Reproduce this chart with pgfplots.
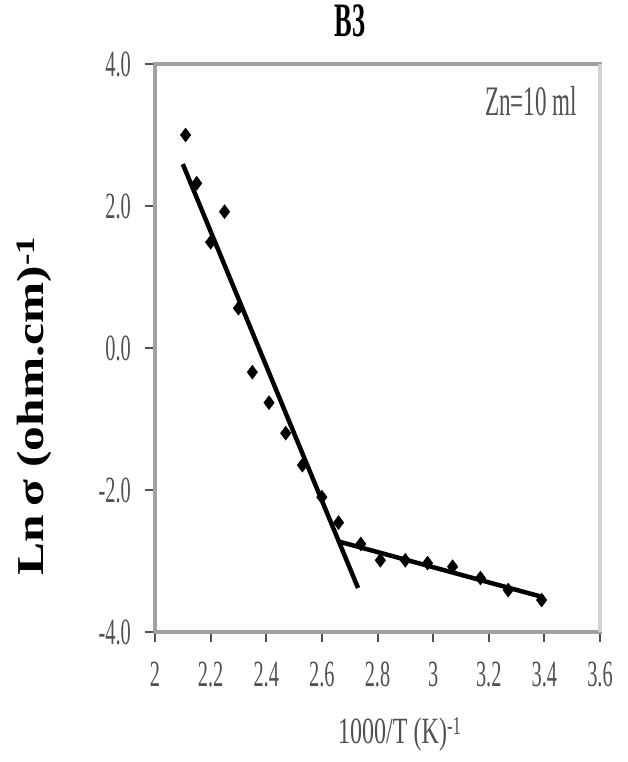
\documentclass[border=0pt]{standalone}
\usepackage{fontspec}
\setmainfont{Liberation Serif}
\usepackage{graphicx}
\usepackage{pgfplots}
\pgfplotsset{compat=1.18}
\definecolor{axisGray}{RGB}{160,160,160}
\definecolor{tickGray}{RGB}{80,80,80}

\pgfplotstableread{
x     y
2.11  3.00
2.15  2.32
2.20  1.49
2.25  1.92
2.30  0.56
2.35 -0.34
2.41 -0.77
2.47 -1.20
2.53 -1.65
2.60 -2.10
2.66 -2.46
2.74 -2.76
2.81 -2.99
2.90 -2.99
2.98 -3.03
3.07 -3.08
3.17 -3.24
3.27 -3.41
3.39 -3.55
}\lnsigma

\newcommand{\tickfont}{\fontsize{37}{40}\selectfont}
\newcommand{\sx}[1]{\scalebox{0.55}[1]{#1}}

\begin{document}
\begin{tikzpicture}
\path[use as bounding box] (0,0) rectangle (628pt,762pt);
\begin{axis}[
    at={(155pt,130pt)}, anchor=south west,
    scale only axis,
    width=445pt, height=568pt,
    xmin=2, xmax=3.6,
    ymin=-4, ymax=4,
    clip=false,
    axis line style={axisGray, line width=3.5pt},
    xtick={2,2.2,2.4,2.6,2.8,3,3.2,3.4,3.6},
    xticklabels={\sx{2},\sx{2.2},\sx{2.4},\sx{2.6},\sx{2.8},\sx{3},\sx{3.2},\sx{3.4},\sx{3.6}},
    ytick={-4,-2,0,2,4},
    yticklabels={\sx{-4.0},\sx{-2.0},\sx{0.0},\sx{2.0},\sx{4.0}},
    tick align=outside,
    xtick pos=bottom, ytick pos=left,
    major tick length=10pt,
    tick style={tickGray, line width=2pt},
    minor tick num=0,
    xticklabel style={font=\tickfont, text=tickGray, anchor=north, inner sep=0pt, yshift=-20pt},
    yticklabel style={font=\tickfont, text=tickGray, anchor=east, inner sep=0pt, xshift=-14pt},
    xlabel={\scalebox{0.65}[1]{1000/T (K)\textsuperscript{-1}}},
    xlabel style={font=\tickfont, text=tickGray, at={(axis description cs:0.55,-0.181)}, anchor=center},
    ylabel={\scalebox{1.3}[1]{Ln\,σ (ohm.cm)\textsuperscript{-1}}},
    ylabel style={font=\fontsize{38}{40}\selectfont\bfseries, at={(axis description cs:-0.272,0.398)}, anchor=center, rotate=0},
    title={\scalebox{0.55}[1]{B3}},
    title style={font=\fontsize{48}{50}\selectfont\bfseries, at={(axis description cs:0.438,1.065)}, anchor=center},
]
\addplot[only marks, mark=diamond*, mark size=7pt, black] table[x=x, y=y] {\lnsigma};
\addplot[black, line width=4.5pt] coordinates {(2.10,2.59) (2.73,-3.38)};
\addplot[black, line width=4.5pt] coordinates {(2.665,-2.73) (3.396,-3.51)};
\draw[color={rgb,255:red,208;green,208;blue,208}, line width=3.5pt] (rel axis cs:1,0) -- (rel axis cs:1,1);
\node[font=\fontsize{42}{44}\selectfont, text=tickGray] at (axis description cs:0.845,0.935) {\scalebox{0.55}[1]{Zn=10 ml}};
\end{axis}
\end{tikzpicture}
\end{document}
